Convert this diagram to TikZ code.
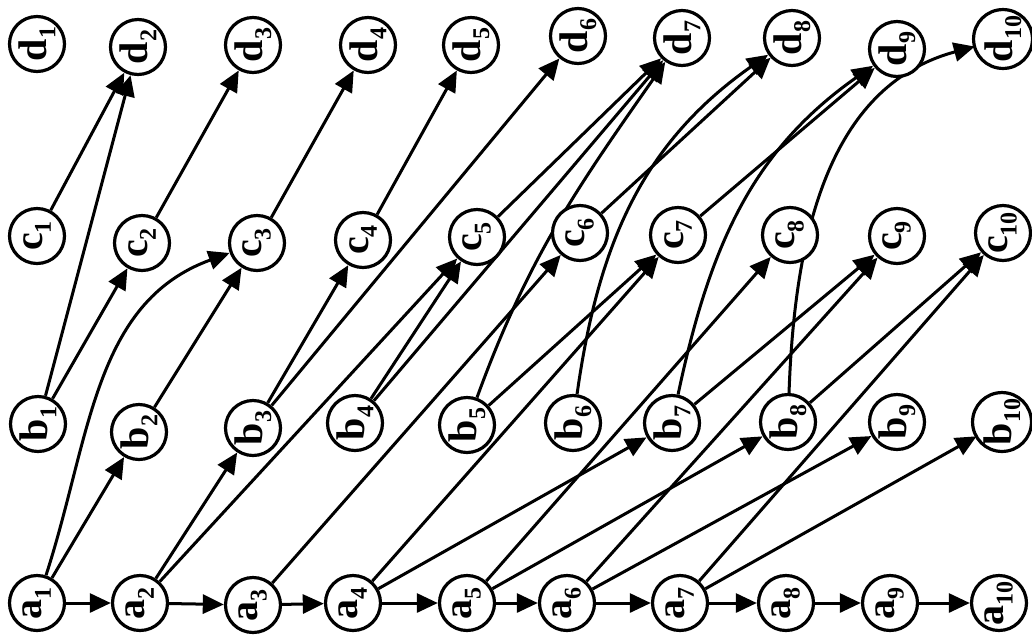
\documentclass[tikz,border=0pt]{standalone}
\usepackage{fontspec}
\setmainfont{Liberation Serif}
\usetikzlibrary{arrows.meta}
\newcommand{\lbl}[2]{\textbf{#1\raisebox{-0.22em}{\fontsize{24}{24}\selectfont #2}}}
\begin{document}
\begin{tikzpicture}[x=1pt,y=-1pt,
  vtx/.style={circle,draw,line width=3.2pt,fill=white,minimum size=55pt,inner sep=0pt,
    font=\fontsize{40}{42}\selectfont\bfseries,rotate=90},
  ghost/.style={circle,minimum size=58pt,inner sep=0pt},
  edge/.style={line width=3pt,-{Triangle[length=21pt,width=19pt]}}]
\useasboundingbox (0,0) rectangle (1032,641);
\foreach \n/\x/\y in {1/37/603,2/140/603,3/253/605,4/353/603,5/467/603,6/567/603,7/680/603,8/786/603,9/890/603,10/999/603}
  \node[ghost] (a\n) at (\x,\y) {};
\foreach \n/\x/\y in {1/38/424,2/139/432,3/253/428,4/355/423,5/467/425,6/573/423,7/672/423,8/788/422,9/897/422,10/1002/422}
  \node[ghost] (b\n) at (\x,\y) {};
\foreach \n/\x/\y in {1/37/236,2/142/243,3/257/243,4/363/240,5/477/237,6/580/233,7/678/235,8/790/235,9/897/236,10/1003/233}
  \node[ghost] (c\n) at (\x,\y) {};
\foreach \n/\x/\y in {1/37/44,2/138/47,3/253/45,4/368/45,5/471/45,6/578/36,7/682/38,8/792/38,9/897/49,10/1003/39}
  \node[ghost] (d\n) at (\x,\y) {};
% edges
\foreach \i [evaluate=\i as \j using int(\i+1)] in {1,...,9}
  \draw[edge] (a\i) -- (a\j);
\draw[edge] (a1) -- (b2);
\draw[edge] (a1) to[out=72,in=200] (c3);
\draw[edge] (a2) -- (b3);
\draw[edge] (a2) -- (c5);
\draw[edge] (a3) -- (c6);
\draw[edge] (a4) -- (c7);
\draw[edge] (a4) -- (b7);
\draw[edge] (a5) -- (b8);
\draw[edge] (a5) -- (c8);
\draw[edge] (a6) -- (b9);
\draw[edge] (a6) -- (c9);
\draw[edge] (a7) -- (b10);
\draw[edge] (a7) -- (c10);
\draw[edge] (b1) -- (c2);
\draw[edge] (b1) -- (d2);
\draw[edge] (b2) -- (c3);
\draw[edge] (b3) -- (c4);
\draw[edge] (b3) -- (d6);
\draw[edge] (b4) -- (c5);
\draw[edge] (b4) -- (d7);
\draw[edge] (b5) -- (c7);
\draw[edge] (b5) to[out=70,in=235] (d7);
\draw[edge] (b6) to[out=82,in=215] (d8);
\draw[edge] (b7) -- (c9);
\draw[edge] (b7) to[out=78,in=215] (d9);
\draw[edge] (b8) -- (c10);
\draw[edge] (b8) to[out=88,in=195] (d10);
\draw[edge] (c1) -- (d2);
\draw[edge] (c2) -- (d3);
\draw[edge] (c3) -- (d4);
\draw[edge] (c4) -- (d5);
\draw[edge] (c5) -- (d7);
\draw[edge] (c6) -- (d8);
\draw[edge] (c7) -- (d9);
% visible nodes on top
\foreach \r in {a,b,c,d}
  \foreach \n in {1,...,10}
    \node[vtx] at (\r\n.center) {\lbl{\r}{\n}};
\end{tikzpicture}
\end{document}
